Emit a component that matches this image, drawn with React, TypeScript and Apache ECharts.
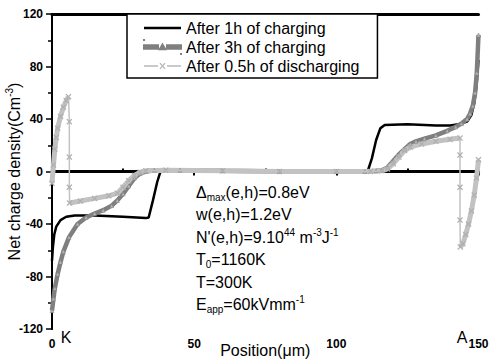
import React, { useEffect, useRef } from 'react';
import * as echarts from 'echarts';

// ---- data ----
const seriesNames = ['After 1h of charging', 'After 3h of charging', 'After 0.5h of discharging'];
const xMin = 0, xMax = 150, xInterval = 50;
const xMinorTicks = [25, 75, 125];
const yMin = -120, yMax = 120, yInterval = 40;

const charge1h: number[][] = [
  [0, -68], [0.3, -58], [0.8, -48], [1.5, -42], [3, -37], [5, -34.5], [8, -33.5], [15, -33.5],
  [25, -34.5], [33, -35.5], [34, -35], [35.5, -22], [37, -8], [38, -1], [38.5, 0], [111, 0],
  [112.5, 10], [114, 24], [115.5, 33], [117, 35.5], [125, 36], [135, 35], [140, 35], [143, 36],
  [146, 38], [147.5, 43], [148.5, 52], [149.3, 65], [150, 85],
];

const charge3h: number[][] = [
  [0, -106], [0.5, -97], [1, -89], [2, -78], [3, -69], [4, -61], [6, -50], [9, -40], [12, -35],
  [15, -32], [18, -29.5], [21, -26], [23, -22], [25, -17], [27, -11], [29, -5], [31, -1.5],
  [33, 0], [36, 1], [45, 1], [60, 0.5], [80, 0], [100, 0], [110, 0], [114, 0.5], [116, 1],
  [118, 3], [120, 8], [122, 13], [124, 17], [126, 21], [128, 23], [131, 25], [135, 27.5],
  [139, 31], [142, 34], [144, 36.5], [146, 40], [147, 44], [148, 50], [148.8, 60], [149.4, 75],
  [150, 104],
];

const dischargeLeftBump: number[][] = [
  [0, -9], [0.5, 5], [1, 17], [1.5, 26], [2, 33], [3, 42], [4, 49], [5, 54], [5.8, 57],
];
const dischargeLeftDrop: number[][] = [[6.1, 38], [6.1, 11], [6.1, -12]];
const dischargeMiddle: number[][] = [
  [6.2, -24], [10, -22.5], [15, -20.5], [20, -18.5], [23, -16.5], [25, -12], [27, -7], [29, -3],
  [31, -0.5], [33, 0.5], [40, 1], [60, 0.5], [80, 0], [100, 0], [112, 0], [116, 0.5], [118, 2],
  [120, 6], [122, 11], [124, 16], [126, 18.5], [130, 21], [135, 23], [140, 24.5], [143.5, 25.5],
];
const dischargeRightDrop: number[][] = [[143.5, 12.5], [143.5, -12], [143.5, -37]];
const dischargeRightEnd: number[][] = [
  [143.6, -57.5], [144.5, -55], [145.5, -48], [146.5, -40], [147.5, -30], [148.5, -18],
  [149.3, -5], [150, 9],
];
const zeroLine: number[][] = [[0, 0], [150, 0]];

const annotationLines = [
  '{a|\u0394}{s|max}{a|(e,h)=0.8eV}',
  '{a|w(e,h)=1.2eV}',
  "{a|N'(e,h)=9.10}{p|44}{a| m}{p|-3}{a|J}{p|-1}",
  '{a|T}{s|0}{a|=1160K}',
  '{a|T=300K}',
  '{a|E}{s|app}{a|=60kVmm}{p|-1}',
];

const FONT = '"Liberation Sans", Arial, sans-serif';
const BLACK = '#000';
const DARK = '#7f7f7f';
const LIGHT = '#c2c2c2';
const xMarker = 'path://M0,1.5L1.5,0L5,3.5L8.5,0L10,1.5L6.5,5L10,8.5L8.5,10L5,6.5L1.5,10L0,8.5L3.5,5Z';

// legend icons (37 x 14 box kept by tiny corner specks)
const BOX = 'M0,0h0.01v0.01h-0.01Z M36.99,13.99h0.01v0.01h-0.01Z ';
const iconSolid = 'path://' + BOX + 'M0,5.7H37V8.3H0Z';
const iconDark = 'path://' + BOX + 'M0,5.2H14V8.8H0Z M23,5.2H37V8.8H23Z M18.5,4.6L21.2,9.2L15.8,9.2Z';
const iconLight = 'path://' + BOX + 'M0,6.3H14V7.7H0Z M23,6.3H37V7.7H23Z ' +
  'M15.5,4.5L16.5,3.8L18.5,6.1L20.5,3.8L21.5,4.5L19.3,7L21.5,9.5L20.5,10.2L18.5,7.9L16.5,10.2L15.5,9.5L17.7,7Z';

const richStyles = {
  a: { fontSize: 16, lineHeight: 20, fontFamily: FONT, color: '#000' },
  s: { fontSize: 10, lineHeight: 10, verticalAlign: 'bottom', fontFamily: FONT, color: '#000' },
  p: { fontSize: 10, lineHeight: 10, verticalAlign: 'top', fontFamily: FONT, color: '#000' },
};

export default function App() {
  const ref = useRef<HTMLDivElement>(null);
  useEffect(() => {
    document.body.style.margin = '0';
    const chart = echarts.init(ref.current!, null, { renderer: 'svg' });
    const thick = (data: number[][], name: string) => ({
      type: 'line', name, data, symbol: 'none', silent: true,
      lineStyle: { color: LIGHT, width: 5 }, z: 3,
    });
    const option: any = {
      animation: false,
      backgroundColor: '#fff',
      textStyle: { fontFamily: FONT },
      grid: { left: 52, right: 12.5, top: 14, bottom: 33, containLabel: false, outerBoundsMode: 'none' },
      legend: {
        data: [
          { name: seriesNames[0], icon: iconSolid, itemStyle: { color: BLACK } },
          { name: seriesNames[1], icon: iconDark, itemStyle: { color: DARK } },
          { name: seriesNames[2], icon: iconLight, itemStyle: { color: '#b8b8b8' } },
        ],
        orient: 'vertical',
        left: 127,
        top: 14,
        padding: [6, 18, 4, 16],
        itemWidth: 37,
        itemHeight: 14,
        itemGap: 3,
        borderColor: '#000',
        borderWidth: 1.5,
        backgroundColor: '#fff',
        textStyle: { fontSize: 16, color: '#000', fontFamily: FONT },
      },
      xAxis: [
        {
          type: 'value', min: xMin, max: xMax, interval: xInterval,
          axisLine: { lineStyle: { color: '#000', width: 3 } },
          axisTick: { inside: false, length: 4, lineStyle: { color: '#000', width: 2 } },
          axisLabel: { color: '#000', fontWeight: 'bold', fontSize: 12, margin: 9, fontFamily: FONT },
          splitLine: { show: false },
          name: 'Position(\u03bcm)', nameLocation: 'middle', nameGap: 13, nameMoveOverlap: false,
          nameTextStyle: { fontSize: 16, color: '#000', fontFamily: FONT },
        },
        {
          type: 'value', min: xMin, max: xMax, position: 'bottom',
          axisLine: { show: false },
          axisTick: { show: true, inside: true, length: 3, customValues: xMinorTicks, lineStyle: { color: '#000', width: 2 } },
          axisLabel: { show: false },
          splitLine: { show: false },
        },
        {
          type: 'value', min: xMin, max: xMax, position: 'top',
          axisLine: { lineStyle: { color: '#000', width: 3 } },
          axisTick: { show: false }, axisLabel: { show: false }, splitLine: { show: false },
        },
      ],
      yAxis: [
        {
          type: 'value', min: yMin, max: yMax, interval: yInterval,
          axisLine: { lineStyle: { color: '#000', width: 2 } },
          axisTick: { inside: false, length: 6, lineStyle: { color: '#000', width: 1.5 } },
          minorTick: { show: true, splitNumber: 2, length: 4, lineStyle: { color: '#000', width: 1.5 } },
          axisLabel: { color: '#000', fontWeight: 'bold', fontSize: 12, margin: 9, fontFamily: FONT },
          splitLine: { show: false },
          name: '{a|Net charge density(Cm}{p|-3}{a|)}',
          nameLocation: 'middle', nameGap: 28, nameRotate: 90, nameMoveOverlap: false,
          nameTextStyle: { rich: richStyles },
        },
        {
          type: 'value', min: yMin, max: yMax, position: 'right',
          axisLine: { show: true, lineStyle: { color: '#000', width: 2 } },
          axisTick: { show: false }, axisLabel: { show: false }, splitLine: { show: false },
        },
      ],
      series: [
        {
          type: 'line', name: 'zero', data: zeroLine, symbol: 'none', silent: true,
          lineStyle: { color: BLACK, width: 2 }, z: 1,
        },
        {
          type: 'line', name: seriesNames[0], data: charge1h, symbol: 'none',
          lineStyle: { color: BLACK, width: 2.5 }, itemStyle: { color: BLACK }, z: 2,
        },
        {
          type: 'line', name: seriesNames[1], data: charge3h, symbol: 'triangle', symbolSize: 4,
          showSymbol: true,
          lineStyle: { color: DARK, width: 4.5 },
          itemStyle: { color: '#b5b5b5', borderColor: DARK, borderWidth: 0.5 }, z: 3,
        },
        thick(dischargeLeftBump, 'dl1'),
        thick(dischargeMiddle, 'dl2'),
        thick(dischargeRightEnd, 'dl3'),
        {
          type: 'line', name: seriesNames[2],
          data: [...dischargeLeftBump, ...dischargeLeftDrop, ...dischargeMiddle, ...dischargeRightDrop, ...dischargeRightEnd],
          symbol: xMarker, symbolSize: 6, showSymbol: true,
          lineStyle: { color: LIGHT, width: 1.5 }, itemStyle: { color: '#b0b0b0' }, z: 4,
        },
      ],
      graphic: [
        ...annotationLines.map((t, i) => ({
          type: 'text', x: 196, y: 192 + i * 22.5, z: 10,
          style: { text: t, rich: richStyles, verticalAlign: 'middle', align: 'left' },
        })),
        { type: 'text', x: 66, y: 337, z: 10, style: { text: 'K', fontSize: 16, fontFamily: FONT, fill: '#000', align: 'center', verticalAlign: 'middle' } },
        { type: 'text', x: 462, y: 337, z: 10, style: { text: 'A', fontSize: 16, fontFamily: FONT, fill: '#000', align: 'center', verticalAlign: 'middle' } },
      ],
    };
    chart.setOption(option);
    return () => chart.dispose();
  }, []);
  return <div ref={ref} style={{ width: 491, height: 362 }} />;
}
